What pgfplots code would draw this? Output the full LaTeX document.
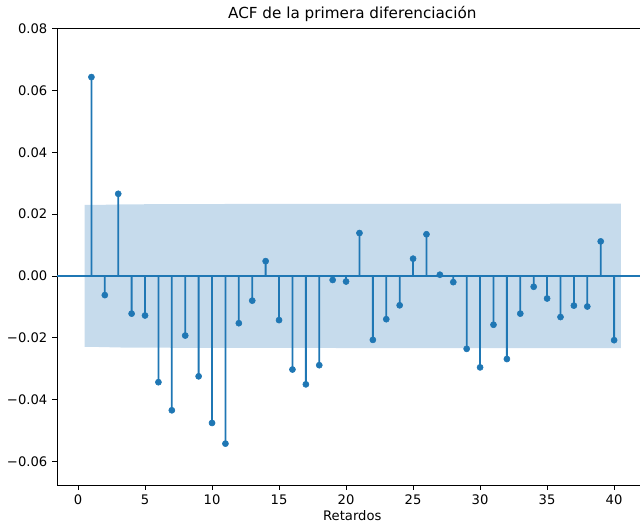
\documentclass[border=0pt]{standalone}
\usepackage{pgfplots}
\usepackage{pgfplotstable}
\pgfplotsset{compat=1.18}
\usepackage{fontspec}
\setmainfont{DejaVu Sans}
\definecolor{c0}{HTML}{1F77B4}
\definecolor{band}{HTML}{C6DBEC}
\pgfplotstableread{
lag acf
1 0.0644
2 -0.0062
3 0.0266
4 -0.0122
5 -0.0128
6 -0.0344
7 -0.0435
8 -0.0193
9 -0.0325
10 -0.0476
11 -0.0543
12 -0.0153
13 -0.0080
14 0.0048
15 -0.0143
16 -0.0303
17 -0.0351
18 -0.0289
19 -0.0013
20 -0.0018
21 0.0139
22 -0.0207
23 -0.0140
24 -0.0095
25 0.0056
26 0.0135
27 0.0004
28 -0.0020
29 -0.0236
30 -0.0296
31 -0.0158
32 -0.0269
33 -0.0122
34 -0.0035
35 -0.0073
36 -0.0133
37 -0.0096
38 -0.0099
39 0.0112
40 -0.0208
}\acfdata
\begin{document}
\begin{tikzpicture}
\path[use as bounding box] (-41.2pt,-27.5pt) rectangle (421.3pt,350.5pt);
\clip (-41.2pt,-27.5pt) rectangle (421.3pt,350.5pt);
\begin{axis}[
  at={(0,0)}, anchor=south west,
  scale only axis,
  width=426.8pt, height=329.6pt,
  xmin=-1.567, xmax=42.5,
  ymin=-0.0677, ymax=0.08,
  axis line style={black, line width=0.6pt},
  tick align=outside,
  xtick pos=left, ytick pos=left,
  major tick length=3.5pt,
  tick style={black, line width=0.6pt},
  xtick={0,5,...,40},
  ytick={-0.06,-0.04,-0.02,0,0.02,0.04,0.06,0.08},
  yticklabels={−0.06,−0.04,−0.02,0.00,0.02,0.04,0.06,0.08},
  scaled y ticks=false,
  /pgf/number format/assume math mode=true,
  ticklabel style={font=\fontsize{9.5}{11}\selectfont},
  xlabel={Retardos},
  xlabel style={font=\fontsize{9.5}{11}\selectfont, yshift=3pt},
  title={ACF de la primera diferenciación},
  title style={font=\fontsize{11}{13}\selectfont, yshift=-4pt},
  clip=true,
]
\addplot[fill=band, draw=none] coordinates {(0.5,0.0230) (1.5,0.0230) (3.5,0.0232) (10.5,0.0233) (40.5,0.0234) (40.5,-0.0234) (10.5,-0.0233) (3.5,-0.0232) (1.5,-0.0230) (0.5,-0.0230)} -- cycle;
\addplot[ybar, bar width=1.3pt, bar shift=0pt, fill=c0, draw=none] table[x=lag, y=acf] {\acfdata};
\addplot[c0, line width=1.2pt] coordinates {(-1.567,0) (42.5,0)};
\addplot[c0, only marks, mark=*, mark size=2.2pt, mark options={solid, fill=c0, draw=c0, line width=0.4pt}] table[x=lag, y=acf] {\acfdata};
\end{axis}
\end{tikzpicture}
\end{document}
